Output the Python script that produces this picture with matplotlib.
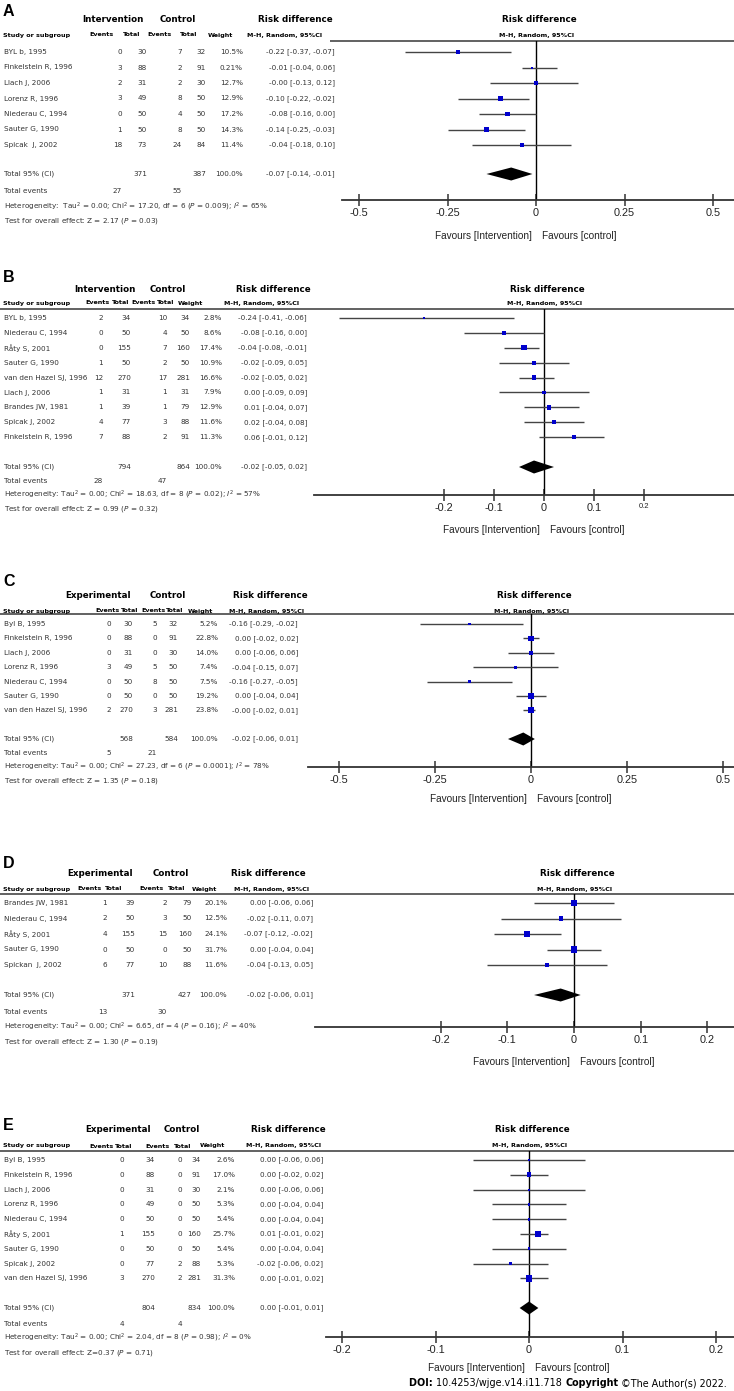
import numpy as np
import matplotlib
matplotlib.use("Agg")
import matplotlib.pyplot as plt

W, H = 734, 1391
plt.rcParams['font.family'] = ['DejaVu Sans']
plt.rcParams['mathtext.fontset'] = 'dejavusans'

# ---------------- data ----------------
A_study = ["BYL b, 1995", "Finkelstein R, 1996", "Llach J, 2006", "Lorenz R, 1996",
           "Niederau C, 1994", "Sauter G, 1990", "Spicak  J, 2002"]
A_ev1 = [0, 3, 2, 3, 0, 1, 18]
A_tot1 = [30, 88, 31, 49, 50, 50, 73]
A_ev2 = [7, 2, 2, 8, 4, 8, 24]
A_tot2 = [32, 91, 30, 50, 50, 50, 84]
A_weight = [10.5, 0.21, 12.7, 12.9, 17.2, 14.3, 11.4]
A_rd = [-0.22, -0.01, -0.00, -0.10, -0.08, -0.14, -0.04]
A_lo = [-0.37, -0.04, -0.13, -0.22, -0.16, -0.25, -0.18]
A_hi = [-0.07, 0.06, 0.12, -0.02, 0.00, -0.03, 0.10]
A_total = [371, 387]
A_events = [27, 55]
A_pooled = [-0.07, -0.14, -0.01]
A_het = "Heterogeneity:  Tau$^2$ = 0.00; Chi$^2$ = 17.20, df = 6 ($P$ = 0.009); $I^2$ = 65%"
A_test = "Test for overall effect: Z = 2.17 ($P$ = 0.03)"
A_ticks = [-0.5, -0.25, 0, 0.25, 0.5]
A_ticklabels = ["-0.5", "-0.25", "0", "0.25", "0.5"]

B_study = ["BYL b, 1995", "Niederau C, 1994", "Råty S, 2001", "Sauter G, 1990",
           "van den Hazel SJ, 1996", "Llach J, 2006", "Brandes JW, 1981",
           "Spicak J, 2002", "Finkelstein R, 1996"]
B_ev1 = [2, 0, 0, 1, 12, 1, 1, 4, 7]
B_tot1 = [34, 50, 155, 50, 270, 31, 39, 77, 88]
B_ev2 = [10, 4, 7, 2, 17, 1, 1, 3, 2]
B_tot2 = [34, 50, 160, 50, 281, 31, 79, 88, 91]
B_weight = [2.8, 8.6, 17.4, 10.9, 16.6, 7.9, 12.9, 11.6, 11.3]
B_rd = [-0.24, -0.08, -0.04, -0.02, -0.02, 0.00, 0.01, 0.02, 0.06]
B_lo = [-0.41, -0.16, -0.08, -0.09, -0.05, -0.09, -0.04, -0.04, -0.01]
B_hi = [-0.06, 0.00, -0.01, 0.05, 0.02, 0.09, 0.07, 0.08, 0.12]
B_total = [794, 864]
B_events = [28, 47]
B_pooled = [-0.02, -0.05, 0.02]
B_het = "Heterogeneity: Tau$^2$ = 0.00; Chi$^2$ = 18.63, df = 8 ($P$ = 0.02); $I^2$ = 57%"
B_test = "Test for overall effect: Z = 0.99 ($P$ = 0.32)"
B_ticks = [-0.2, -0.1, 0, 0.1, 0.2]
B_ticklabels = ["-0.2", "-0.1", "0", "0.1", "0.2"]

C_study = ["Byl B, 1995", "Finkelstein R, 1996", "Llach J, 2006", "Lorenz R, 1996",
           "Niederau C, 1994", "Sauter G, 1990", "van den Hazel SJ, 1996"]
C_ev1 = [0, 0, 0, 3, 0, 0, 2]
C_tot1 = [30, 88, 31, 49, 50, 50, 270]
C_ev2 = [5, 0, 0, 5, 8, 0, 3]
C_tot2 = [32, 91, 30, 50, 50, 50, 281]
C_weight = [5.2, 22.8, 14.0, 7.4, 7.5, 19.2, 23.8]
C_rd = [-0.16, 0.00, 0.00, -0.04, -0.16, 0.00, -0.00]
C_lo = [-0.29, -0.02, -0.06, -0.15, -0.27, -0.04, -0.02]
C_hi = [-0.02, 0.02, 0.06, 0.07, -0.05, 0.04, 0.01]
C_total = [568, 584]
C_events = [5, 21]
C_pooled = [-0.02, -0.06, 0.01]
C_het = "Heterogeneity: Tau$^2$ = 0.00; Chi$^2$ = 27.23, df = 6 ($P$ = 0.0001); $I^2$ = 78%"
C_test = "Test for overall effect: Z = 1.35 ($P$ = 0.18)"
C_ticks = [-0.5, -0.25, 0, 0.25, 0.5]
C_ticklabels = ["-0.5", "-0.25", "0", "0.25", "0.5"]

D_study = ["Brandes JW, 1981", "Niederau C, 1994", "Råty S, 2001", "Sauter G, 1990",
           "Spickan  J, 2002"]
D_ev1 = [1, 2, 4, 0, 6]
D_tot1 = [39, 50, 155, 50, 77]
D_ev2 = [2, 3, 15, 0, 10]
D_tot2 = [79, 50, 160, 50, 88]
D_weight = [20.1, 12.5, 24.1, 31.7, 11.6]
D_rd = [0.00, -0.02, -0.07, 0.00, -0.04]
D_lo = [-0.06, -0.11, -0.12, -0.04, -0.13]
D_hi = [0.06, 0.07, -0.02, 0.04, 0.05]
D_total = [371, 427]
D_events = [13, 30]
D_pooled = [-0.02, -0.06, 0.01]
D_het = "Heterogeneity: Tau$^2$ = 0.00; Chi$^2$ = 6.65, df = 4 ($P$ = 0.16); $I^2$ = 40%"
D_test = "Test for overall effect: Z = 1.30 ($P$ = 0.19)"
D_ticks = [-0.2, -0.1, 0, 0.1, 0.2]
D_ticklabels = ["-0.2", "-0.1", "0", "0.1", "0.2"]

E_study = ["Byl B, 1995", "Finkelstein R, 1996", "Llach J, 2006", "Lorenz R, 1996",
           "Niederau C, 1994", "Råty S, 2001", "Sauter G, 1990", "Spicak J, 2002",
           "van den Hazel SJ, 1996"]
E_ev1 = [0, 0, 0, 0, 0, 1, 0, 0, 3]
E_tot1 = [34, 88, 31, 49, 50, 155, 50, 77, 270]
E_ev2 = [0, 0, 0, 0, 0, 0, 0, 2, 2]
E_tot2 = [34, 91, 30, 50, 50, 160, 50, 88, 281]
E_weight = [2.6, 17.0, 2.1, 5.3, 5.4, 25.7, 5.4, 5.3, 31.3]
E_rd = [0.00, 0.00, 0.00, 0.00, 0.00, 0.01, 0.00, -0.02, 0.00]
E_lo = [-0.06, -0.02, -0.06, -0.04, -0.04, -0.01, -0.04, -0.06, -0.01]
E_hi = [0.06, 0.02, 0.06, 0.04, 0.04, 0.02, 0.04, 0.02, 0.02]
E_total = [804, 834]
E_events = [4, 4]
E_pooled = [0.00, -0.01, 0.01]
E_het = "Heterogeneity: Tau$^2$ = 0.00; Chi$^2$ = 2.04, df = 8 ($P$ = 0.98); $I^2$ = 0%"
E_test = "Test for overall effect: Z=0.37 ($P$ = 0.71)"
E_ticks = [-0.2, -0.1, 0, 0.1, 0.2]
E_ticklabels = ["-0.2", "-0.1", "0", "0.1", "0.2"]

# ---------------- layout (pixels) ----------------
LA = dict(letter=11, grp_y=20, sub_y=35, hline=41, hline_x0=330, first=52, sp=15.5,
          total=174, events=191, het=207, test=221, axis_y=200, axis_x0=342,
          zero=536, scale=354, fav=236,
          grp=(113, 178, 295), sub=(102, 132, 160, 189, 221, 285),
          cols=(122, 147, 182, 206, 243, 335))
LB = dict(letter=277, grp_y=289, sub_y=303, hline=309, hline_x0=0, first=318, sp=14.9,
          total=467, events=481, het=495, test=509, axis_y=495, axis_x0=314,
          zero=544, scale=500, fav=530,
          grp=(105, 168, 273), sub=(97, 121, 144, 166, 190, 262),
          cols=(103, 131, 167, 190, 222, 307))
LC = dict(letter=581, grp_y=596, sub_y=611, hline=614, hline_x0=0, first=624, sp=14.4,
          total=739, events=753, het=767, test=781, axis_y=767, axis_x0=308,
          zero=531, scale=384, fav=799,
          grp=(98, 168, 270), sub=(108, 130, 153, 175, 200, 267),
          cols=(111, 133, 157, 178, 218, 298))
LD = dict(letter=864, grp_y=873, sub_y=889, hline=894, hline_x0=0, first=903, sp=15.5,
          total=995, events=1012, het=1027, test=1042, axis_y=1027, axis_x0=315,
          zero=574, scale=667, fav=1062,
          grp=(100, 171, 268), sub=(90, 114, 152, 177, 204, 272),
          cols=(107, 135, 167, 192, 227, 313))
LE = dict(letter=1125, grp_y=1130, sub_y=1146, hline=1151, hline_x0=0, first=1160, sp=14.8,
          total=1308, events=1324, het=1338, test=1353, axis_y=1337, axis_x0=326,
          zero=529, scale=935, fav=1368,
          grp=(118, 182, 288), sub=(102, 124, 157, 183, 212, 284),
          cols=(124, 155, 182, 201, 235, 323))

TXT = 5.2
HDR = 6.3
SUB = 4.6
TXTC = '#333333'
AXF = 'Liberation Sans'

fig = plt.figure(figsize=(W / 100, H / 100), dpi=100)
bg = fig.add_axes([0, 0, 1, 1])
bg.set_xlim(0, W)
bg.set_ylim(H, 0)
bg.axis('off')


def draw_panel(letter, arm, study, ev1, tot1, ev2, tot2, weight, rd, lo, hi,
               total, events, pooled, het, test, ticks, ticklabels, L):
    c, s, g = L['cols'], L['sub'], L['grp']
    bg.text(3, L['letter'], letter, fontsize=11.5, fontweight='bold', va='center',
            family='Liberation Sans')
    for x, t in zip(g, [arm, 'Control', 'Risk difference']):
        bg.text(x, L['grp_y'], t, fontsize=HDR, fontweight='bold', ha='center', va='center')
    bg.text(3, L['sub_y'], 'Study or subgroup', fontsize=SUB, fontweight='bold', va='center')
    for x, t in zip(s, ['Events', 'Total', 'Events', 'Total', 'Weight', 'M-H, Random, 95%Cl']):
        bg.text(x, L['sub_y'], t, fontsize=SUB, fontweight='bold', ha='center', va='center')
    bg.hlines(L['hline'], L['hline_x0'], W, color='#555555', lw=1.3)

    n = len(study)
    rows = L['first'] + L['sp'] * np.arange(n)
    for i in range(n):
        vals = [ev1[i], tot1[i], ev2[i], tot2[i], f"{weight[i]}%",
                f"{rd[i]:.2f} [{lo[i]:.2f}, {hi[i]:.2f}]"]
        bg.text(4, rows[i], study[i], fontsize=TXT, va='center', color=TXTC)
        for x, v in zip(c, vals):
            bg.text(x, rows[i], str(v), fontsize=TXT, va='center', ha='right', color=TXTC)

    yt = L['total']
    bg.text(4, yt, 'Total 95% (CI)', fontsize=TXT, va='center', color=TXTC)
    for x, v in zip([c[1], c[3], c[4], c[5]],
                    [total[0], total[1], '100.0%',
                     f"{pooled[0]:.2f} [{pooled[1]:.2f}, {pooled[2]:.2f}]"]):
        bg.text(x, yt, str(v), fontsize=TXT, va='center', ha='right', color=TXTC)
    bg.text(4, L['events'], 'Total events', fontsize=TXT, va='center', color=TXTC)
    bg.text(c[0], L['events'], str(events[0]), fontsize=TXT, va='center', ha='right', color=TXTC)
    bg.text(c[2], L['events'], str(events[1]), fontsize=TXT, va='center', ha='right', color=TXTC)
    bg.text(4, L['het'], het, fontsize=TXT, va='center', color=TXTC)
    bg.text(4, L['test'], test, fontsize=TXT, va='center', color=TXTC)

    # forest part
    x0, z, k = L['axis_x0'], L['zero'], L['scale']
    ax = fig.add_axes([x0 / W, 1 - L['axis_y'] / H, (W - x0) / W,
                       (L['axis_y'] - L['hline']) / H])
    ax.set_xlim((x0 - z) / k, (W - z) / k)
    ax.set_ylim(L['axis_y'], L['hline'])
    ax.patch.set_visible(False)
    for sp in ['top', 'right', 'left']:
        ax.spines[sp].set_visible(False)
    ax.spines['bottom'].set_color('#333333')
    ax.spines['bottom'].set_linewidth(1.3)
    ax.set_yticks([])
    ax.set_xticks(ticks)
    ax.set_xticklabels(ticklabels, family=AXF)
    ax.tick_params(axis='x', direction='inout', length=8, width=1.1, color='#333333',
                   labelsize=7.8, pad=1.5, labelcolor='#222222')
    ax.axvline(0, color='black', lw=1.0)
    ax.hlines(rows, lo, hi, color='#444444', lw=1.0)
    side = np.maximum(1.2 * np.sqrt(weight), 2.0) * 0.72
    ax.scatter(rd, rows, s=side ** 2, marker='s', color='#0000cc', zorder=3, linewidths=0)
    h = 6.5
    ax.fill([pooled[1], pooled[0], pooled[2], pooled[0]], [yt, yt - h, yt, yt + h],
            color='black', zorder=3, lw=0)

    bg.text(z + 3, L['grp_y'], 'Risk difference', fontsize=HDR, fontweight='bold',
            ha='center', va='center')
    bg.text(z + 1, L['sub_y'], 'M-H, Random, 95%Cl', fontsize=SUB, fontweight='bold',
            ha='center', va='center')
    bg.text(z - 4, L['fav'], 'Favours [Intervention]', fontsize=7.2, ha='right',
            va='center', color='#222222', family=AXF)
    bg.text(z + 6, L['fav'], 'Favours [control]', fontsize=7.2, ha='left',
            va='center', color='#222222', family=AXF)
    return ax


draw_panel('A', 'Intervention', A_study, A_ev1, A_tot1, A_ev2, A_tot2, A_weight, A_rd,
           A_lo, A_hi, A_total, A_events, A_pooled, A_het, A_test, A_ticks, A_ticklabels, LA)
axB = draw_panel('B', 'Intervention', B_study, B_ev1, B_tot1, B_ev2, B_tot2, B_weight, B_rd,
                 B_lo, B_hi, B_total, B_events, B_pooled, B_het, B_test, B_ticks,
                 B_ticklabels, LB)
axB.get_xticklabels()[-1].set_fontsize(5.5)
draw_panel('C', 'Experimental', C_study, C_ev1, C_tot1, C_ev2, C_tot2, C_weight, C_rd,
           C_lo, C_hi, C_total, C_events, C_pooled, C_het, C_test, C_ticks, C_ticklabels, LC)
draw_panel('D', 'Experimental', D_study, D_ev1, D_tot1, D_ev2, D_tot2, D_weight, D_rd,
           D_lo, D_hi, D_total, D_events, D_pooled, D_het, D_test, D_ticks, D_ticklabels, LD)
draw_panel('E', 'Experimental', E_study, E_ev1, E_tot1, E_ev2, E_tot2, E_weight, E_rd,
           E_lo, E_hi, E_total, E_events, E_pooled, E_het, E_test, E_ticks, E_ticklabels, LE)

# footer
FS = 6.9
t = bg.text(727, 1383, ' ©The Author(s) 2022.', fontsize=FS, ha='right', va='center')
t = bg.annotate('Copyright', xy=(0, 0), xycoords=t, ha='right', va='bottom',
                fontsize=FS, fontweight='bold')
t = bg.annotate('10.4253/wjge.v14.i11.718 ', xy=(0, 0), xycoords=t, ha='right',
                va='bottom', fontsize=FS)
bg.annotate('DOI: ', xy=(0, 0), xycoords=t, ha='right', va='bottom', fontsize=FS,
            fontweight='bold')

fig.savefig('out.png', dpi=100)
